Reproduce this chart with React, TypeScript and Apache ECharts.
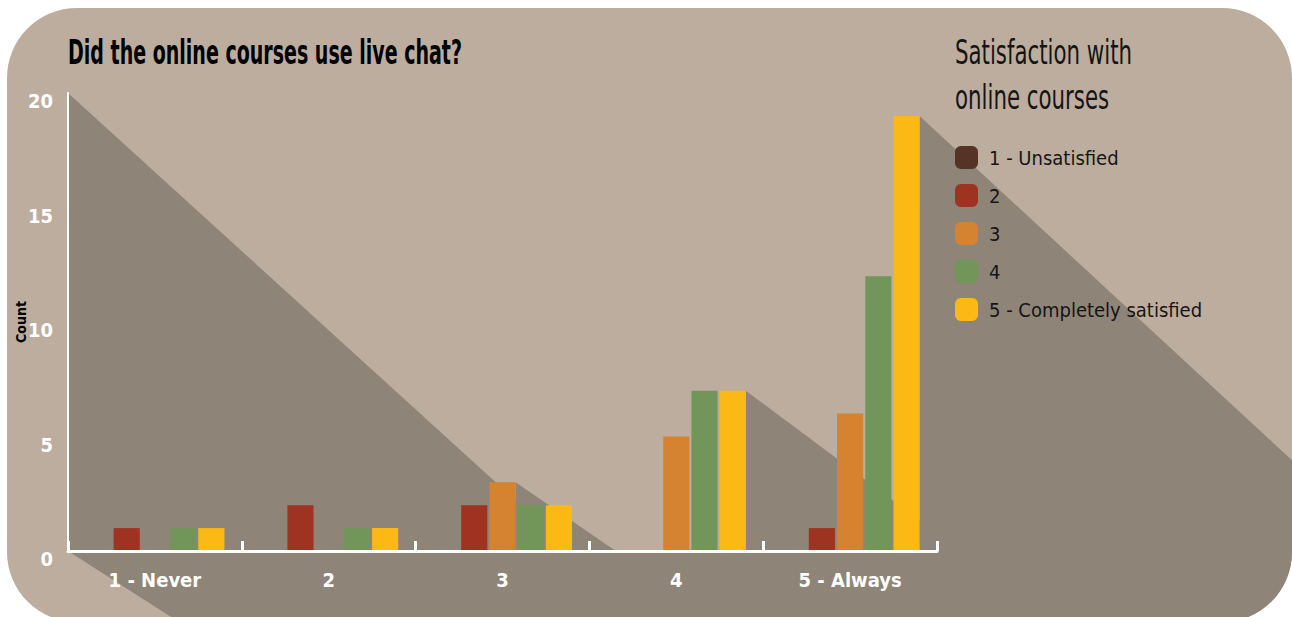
import React, { useEffect, useRef } from "react";
import * as echarts from "echarts";

// ---------- data ----------
const categories = ["1 - Never", "2", "3", "4", "5 - Always"];
const seriesNames = ["1 - Unsatisfied", "2", "3", "4", "5 - Completely satisfied"];
const seriesColors = ["#553326", "#9e3322", "#d58331", "#72965a", "#fcb814"];
const unsatisfied = [0, 0, 0, 0, 0];
const satisfied2 = [1, 2, 2, 0, 1];
const satisfied3 = [0, 0, 3, 5, 6];
const satisfied4 = [1, 1, 2, 7, 12];
const completelySatisfied = [1, 1, 2, 7, 19];
const yTicks = [0, 5, 10, 15, 20];

const chartTitle = "Did the online courses use live chat?";
const legendTitle = ["Satisfaction with", "online courses"];
const yAxisName = "Count";

// ---------- style ----------
const W = 1285;
const H = 614;
const BG = "#bdad9e";
const SHADOW = "#8f8478";
const FONT = "'Liberation Sans Narrow', 'DejaVu Sans Condensed', 'Roboto Condensed', Roboto, sans-serif";
const CORNER = 70;

type Pt = [number, number];

function roundedRectPoly(w: number, h: number, r: number): Pt[] {
  const pts: Pt[] = [];
  const corners: [number, number, number][] = [
    [r, r, 180],
    [w - r, r, 270],
    [w - r, h - r, 0],
    [r, h - r, 90],
  ];
  for (const [cx, cy, a0] of corners) {
    for (let k = 0; k <= 16; k++) {
      const a = ((a0 + (90 * k) / 16) * Math.PI) / 180;
      pts.push([cx + r * Math.cos(a), cy + r * Math.sin(a)]);
    }
  }
  return pts;
}

function clipPoly(subject: Pt[], clip: Pt[]): Pt[] {
  let out = subject;
  for (let i = 0; i < clip.length; i++) {
    const a = clip[i];
    const b = clip[(i + 1) % clip.length];
    const input = out;
    out = [];
    if (!input.length) break;
    const inside = (p: Pt) => (b[0] - a[0]) * (p[1] - a[1]) - (b[1] - a[1]) * (p[0] - a[0]) >= 0;
    const inter = (p: Pt, q: Pt): Pt => {
      const den = (p[0] - q[0]) * (a[1] - b[1]) - (p[1] - q[1]) * (a[0] - b[0]);
      const t = ((p[0] - a[0]) * (a[1] - b[1]) - (p[1] - a[1]) * (a[0] - b[0])) / den;
      return [p[0] + t * (q[0] - p[0]), p[1] + t * (q[1] - p[1])];
    };
    for (let j = 0; j < input.length; j++) {
      const cur = input[j];
      const prev = input[(j + input.length - 1) % input.length];
      const ci = inside(cur);
      const pi = inside(prev);
      if (ci) {
        if (!pi) out.push(inter(prev, cur));
        out.push(cur);
      } else if (pi) {
        out.push(inter(prev, cur));
      }
    }
  }
  return out;
}

function measure(text: string, font: string): number {
  const c = document.createElement("canvas").getContext("2d");
  if (!c) return text.length * 10;
  c.font = font;
  return c.measureText(text).width;
}

export default function App() {
  const ref = useRef<HTMLDivElement>(null);

  useEffect(() => {
    const el = ref.current;
    if (!el) return;
    const chart = echarts.init(el, null, { renderer: "svg" });
    const seriesData = [unsatisfied, satisfied2, satisfied3, satisfied4, completelySatisfied];
    const yMax = yTicks[yTicks.length - 1];

    chart.setOption({
      animation: false,
      grid: { left: 61, right: 355, top: 85, bottom: 71, containLabel: false, outerBoundsMode: "none" },
      legend: {
        orient: "vertical",
        left: 948,
        top: 138,
        padding: 0,
        icon: "roundRect",
        itemWidth: 23,
        itemHeight: 23,
        itemGap: 15,
        selectedMode: false,
        data: seriesNames,
        textStyle: { color: "#151515", fontSize: 20, fontFamily: FONT, padding: [0, 0, 0, 6] },
      },
      xAxis: {
        type: "category",
        data: categories,
        z: 5,
        axisLine: { lineStyle: { color: "#ffffff", width: 3 } },
        axisTick: { show: true, inside: true, length: 10, lineStyle: { color: "#ffffff", width: 3 } },
        axisLabel: { color: "#ffffff", fontWeight: "bold", fontSize: 20, fontFamily: FONT, margin: 19 },
        splitLine: { show: false },
      },
      yAxis: {
        type: "value",
        min: yTicks[0],
        max: yMax,
        interval: yTicks[1] - yTicks[0],
        z: 5,
        name: yAxisName,
        nameLocation: "middle",
        nameGap: 40,
        nameMoveOverlap: false,
        nameTextStyle: { color: "#000000", fontWeight: "bold", fontSize: 14, fontFamily: FONT },
        axisLine: { show: true, lineStyle: { color: "#ffffff", width: 2 } },
        axisTick: { show: false },
        splitLine: { show: false },
        axisLabel: {
          color: "#ffffff",
          fontWeight: "bold",
          fontSize: 20,
          lineHeight: 16,
          fontFamily: FONT,
          margin: 15,
          verticalAlign: "top",
        },
      },
      series: seriesData.map((d, i) => ({
        type: "bar",
        name: seriesNames[i],
        data: d,
        barGap: "8%",
        barCategoryGap: "20%",
        itemStyle: { color: seriesColors[i] },
        z: 3,
      })),
    });

    // ---- long shadows derived from the axis scales and bar layouts ----
    const toPx = (c: number, v: number) => chart.convertToPixel({ gridIndex: 0 }, [categories[c], v]) as number[];
    const p0 = toPx(0, 0);
    const p1 = toPx(1, 0);
    const pN = toPx(categories.length - 1, 0);
    const band = p1[0] - p0[0];
    const xLeft = p0[0] - band / 2;
    const xRight = pN[0] + band / 2;
    const yBase = p0[1];
    const yTopPx = toPx(0, yMax)[1];

    const nS = seriesData.length;
    const barRect = (si: number, ci: number) => {
      try {
        const m: any = (chart as any).getModel();
        const lay = m.getSeriesByIndex(si).getData().getItemLayout(ci);
        if (lay && isFinite(lay.x) && isFinite(lay.width)) {
          return {
            left: Math.min(lay.x, lay.x + lay.width),
            right: Math.max(lay.x, lay.x + lay.width),
            top: Math.min(lay.y, lay.y + lay.height),
          };
        }
      } catch (e) {
        /* fall through */
      }
      const bw = (band * 0.8) / (nS + (nS - 1) * 0.08);
      const c = toPx(ci, 0)[0];
      const left = c - band * 0.4 + si * bw * 1.08;
      return { left, right: left + bw, top: toPx(ci, seriesData[si][ci])[1] };
    };

    const slopeFor = (v: number) => 0.64 + (0.3 * v) / yMax;
    const L = 3000;
    const clipShape = roundedRectPoly(W, H, CORNER);
    const polys: Pt[][] = [];

    // x-axis shadow (below the axis line)
    const s0 = slopeFor(0);
    polys.push([
      [xLeft, yBase],
      [xRight, yBase],
      [xRight + L, yBase + s0 * L],
      [xLeft + L, yBase + s0 * L],
    ]);
    // y-axis shadow (above the axis line)
    const sTop = slopeFor(yMax) - 0.03;
    polys.push([
      [xLeft, yTopPx],
      [xLeft + (yBase - yTopPx) / sTop, yBase],
      [xLeft, yBase],
    ]);
    // tallest bar of each category
    categories.forEach((_, ci) => {
      let best = -1;
      let bestV = 0;
      seriesData.forEach((d, si) => {
        if (d[ci] > 0 && d[ci] >= bestV) {
          bestV = d[ci];
          best = si;
        }
      });
      if (best < 0) return;
      const r = barRect(best, ci);
      const s = slopeFor(bestV);
      polys.push([
        [r.right, r.top],
        [r.right + L, r.top + s * L],
        [r.right + L, yBase + s * L],
        [r.right, yBase],
      ]);
    });

    const titleFont = `bold 33px ${FONT}`;
    const titleScale = 394 / measure(chartTitle, titleFont);
    const legFont = `normal 34px ${FONT}`;
    const legScale = 177 / measure(legendTitle[0], legFont);

    const elements: any[] = [
      {
        type: "rect",
        silent: true,
        z: -20,
        shape: { x: 0, y: 0, width: W, height: H, r: CORNER },
        style: { fill: BG },
      },
      ...polys.map((p) => ({
        type: "polygon",
        silent: true,
        z: -10,
        shape: { points: clipPoly(p, clipShape) },
        style: { fill: SHADOW },
      })),
      {
        type: "text",
        x: 61,
        y: 44.5,
        scaleX: titleScale,
        z: 10,
        style: { text: chartTitle, font: titleFont, fill: "#000000", align: "left", verticalAlign: "middle" },
      },
      ...legendTitle.map((t, i) => ({
        type: "text",
        x: 948,
        y: 44.5 + i * 45,
        scaleX: legScale,
        z: 10,
        style: { text: t, font: legFont, fill: "#151515", align: "left", verticalAlign: "middle" },
      })),
    ];

    chart.setOption({ graphic: { elements } });

    return () => {
      chart.dispose();
    };
  }, []);

  return <div ref={ref} style={{ position: "absolute", left: 7, top: 8, width: W, height: H }} />;
}
